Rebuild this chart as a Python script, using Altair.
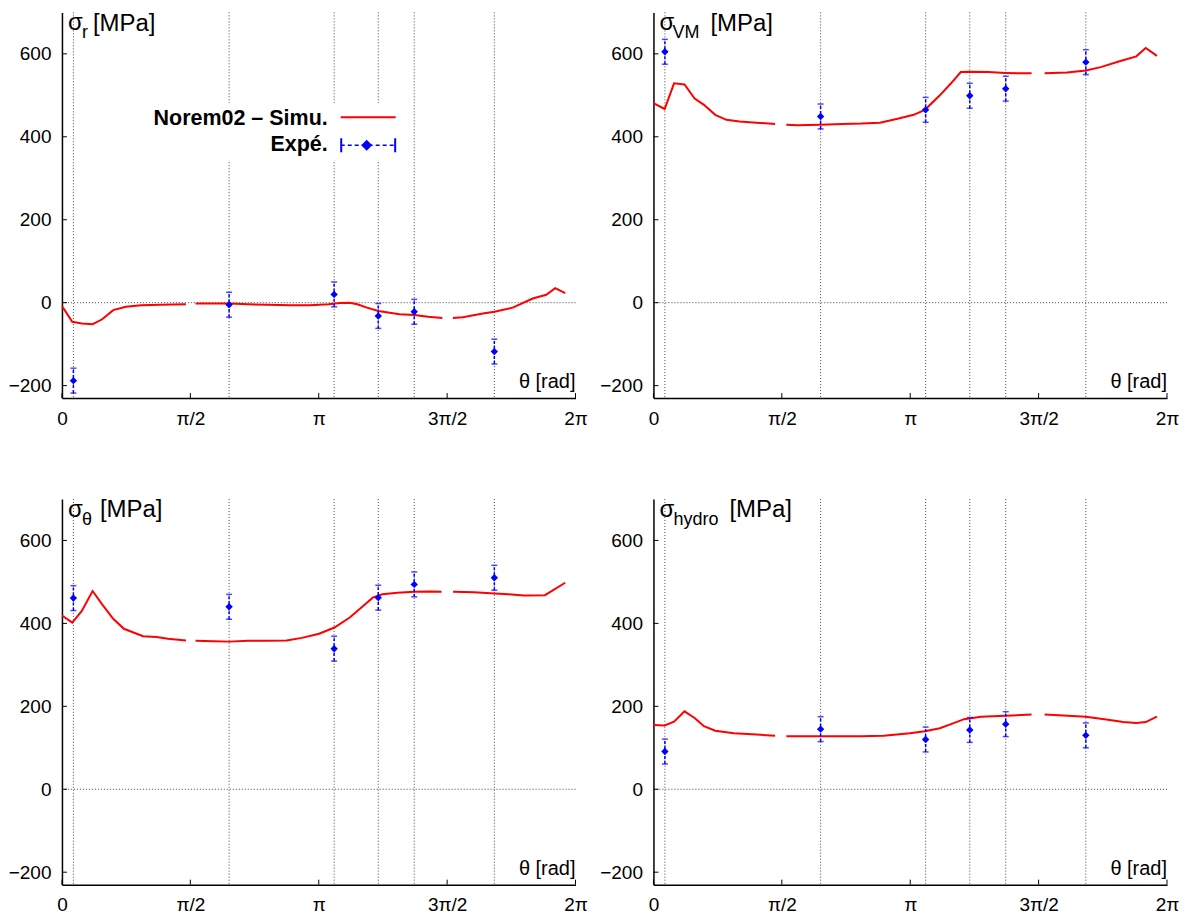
import altair as alt
import pandas as pd
import numpy as np

# ---------------- data ----------------
exp_theta = [0.14, 2.045, 3.33, 3.87, 4.31, 5.29]
exp_err = 30

sr_exp = [-188, -5, 20, -32, -22, -118]
vm_exp = [605, 449, 465, 499, 516, 580]
st_exp = [461, 440, 339, 462, 494, 510]
hy_exp = [91, 145, 120, 143, 157, 130]

# simulation curves (None separates the three segments)
sr_theta = [0.000, 0.126, 0.243, 0.375, 0.492, 0.627, 0.782, 0.969, 1.203, 1.517, None,
            1.634, 2.046, 2.280, 2.514, 2.795, 3.029, 3.263, 3.40, 3.52, 3.614, 3.732, 3.871, 4.13, 4.31, 4.48, 4.654, None,
            4.783, 4.904, 5.15, 5.293, 5.515, 5.76, 5.925, 6.035, 6.157]
sr_value = [-8, -46, -50, -52, -40, -18, -10, -6, -5, -4, None,
            -2, -2, -4, -5, -6, -6, -4, -1, 0, -4, -12, -20, -28, -30, -34, -37, None,
            -37, -35, -26, -22, -12, 10, 19, 35, 23]

vm_theta = [0.000, 0.137, 0.252, 0.380, 0.504, 0.618, 0.756, 0.893, 1.053, 1.260, 1.489, None,
            1.626, 1.763, 2.038, 2.313, 2.542, 2.771, 3.000, 3.183, 3.321, 3.504, 3.641, 3.760, 3.870, 4.099, 4.305, 4.466, 4.626, None,
            4.786, 5.061, 5.290, 5.473, 5.702, 5.908, 6.023, 6.160]
vm_value = [481, 467, 529, 526, 492, 477, 453, 441, 437, 434, 431, None,
            429, 428, 429, 431, 432, 434, 444, 453, 465, 500, 529, 556, 557, 556, 554, 553, 553, None,
            553, 555, 560, 568, 582, 594, 614, 595]

st_theta = [0.000, 0.126, 0.243, 0.375, 0.492, 0.627, 0.758, 0.993, 1.156, 1.297, 1.517, None,
            1.634, 1.859, 2.046, 2.280, 2.514, 2.748, 2.936, 3.146, 3.334, 3.521, 3.685, 3.802, 3.919, 4.106, 4.307, 4.504, 4.644, None,
            4.785, 5.043, 5.291, 5.464, 5.651, 5.909, 6.157]
st_value = [419, 402, 430, 478, 446, 411, 387, 369, 367, 363, 359, None,
            358, 357, 356, 358, 358, 359, 365, 375, 390, 414, 442, 462, 470, 474, 476, 477, 476, None,
            476, 475, 472, 470, 467, 468, 498]

hy_theta = [0.000, 0.137, 0.252, 0.380, 0.504, 0.618, 0.756, 0.985, 1.260, 1.489, None,
            1.626, 2.038, 2.542, 2.817, 3.137, 3.321, 3.504, 3.641, 3.801, 4.008, 4.305, 4.626, None,
            4.786, 5.015, 5.290, 5.519, 5.748, 5.908, 6.023, 6.160]
hy_value = [155, 154, 163, 188, 172, 152, 141, 135, 132, 129, None,
            128, 128, 128, 129, 135, 140, 147, 157, 169, 175, 177, 180, None,
            180, 178, 175, 169, 162, 160, 162, 175]

x_tick_values = [0, np.pi / 2, np.pi, 3 * np.pi / 2, 2 * np.pi]
x_tick_labels = ["0", "π/2", "π", "3π/2", "2π"]
y_tick_values = [-200, 0, 200, 400, 600]

subscripts = ["r", "VM", "θ", "hydro"]
legend_labels = ["Norem02 – Simu.", "Expé."]
x_title = "θ [rad]"
unit_text = "[MPa]"

# ---------------- styling ----------------
FONT = "Liberation Sans"
W, H = 514, 386
XDOM = [0, 2 * np.pi]
YDOM = [-230, 700]
RED = "#ff0000"
BLUE = "#0000ff"
GRID = "#444444"

label_js = "[" + ",".join("'%s'" % s for s in x_tick_labels) + "]"
xs = alt.Scale(domain=XDOM, nice=False, zero=False)
ys = alt.Scale(domain=YDOM, nice=False, zero=False)
xax = alt.Axis(values=x_tick_values, labelExpr=label_js + "[round(datum.value / (PI/2))]",
               title=None, grid=False, ticks=False, tickSize=0, labelPadding=11,
               labelFontSize=19, labelFont=FONT, labelColor="black", labelFlush=False,
               labelOverlap=False, domainColor="black", domainWidth=1.5)
yax = alt.Axis(values=y_tick_values, title=None, grid=False, ticks=False, tickSize=0,
               labelPadding=11, labelFontSize=19, labelFont=FONT, labelColor="black",
               labelFlush=False, labelOverlap=False, domainColor="black", domainWidth=1.5)


def X(f):
    return alt.X(f + ":Q", scale=xs, axis=xax)


def Y(f):
    return alt.Y(f + ":Q", scale=ys, axis=yax)


def one(t):
    return pd.DataFrame({"t": [t]})


def panel(sim_t, sim_v, exp_v, sub, sub_x, mpa_x, legend=False):
    rows, s = [], 0
    for t, v in zip(sim_t, sim_v):
        if t is None:
            s += 1
            continue
        rows.append({"theta": t, "value": v, "seg": s})
    sim = pd.DataFrame(rows)
    exp = pd.DataFrame({"theta": exp_theta, "value": exp_v})
    exp["lo"] = exp["value"] - exp_err
    exp["hi"] = exp["value"] + exp_err

    vlines = alt.Chart(exp).mark_rule(color=GRID, strokeDash=[1, 2], strokeWidth=1).encode(x=X("theta"))
    zero = alt.Chart(pd.DataFrame({"value": [0]})).mark_rule(
        color=GRID, strokeDash=[1, 2], strokeWidth=1).encode(y=Y("value"))
    ytick = alt.Chart(pd.DataFrame({"v": y_tick_values})).mark_rule(color="black", strokeWidth=1).encode(
        y=Y("v"), x=alt.value(0), x2=alt.value(5))
    xtick = alt.Chart(pd.DataFrame({"theta": x_tick_values})).mark_rule(color="black", strokeWidth=1).encode(
        x=X("theta"), y=alt.value(H), y2=alt.value(H - 5))

    layers = [vlines, zero, ytick, xtick]

    if legend:
        bg = alt.Chart(one("")).mark_rect(color="white").encode(
            x=alt.value(80), x2=alt.value(340), y=alt.value(91), y2=alt.value(148))
        t1 = alt.Chart(one(legend_labels[0])).mark_text(
            align="right", baseline="alphabetic", font=FONT, fontSize=21.5, fontWeight="bold",
            color="black").encode(x=alt.value(266), y=alt.value(113), text="t:N")
        t2 = alt.Chart(one(legend_labels[1])).mark_text(
            align="right", baseline="alphabetic", font=FONT, fontSize=21.5, fontWeight="bold",
            color="black").encode(x=alt.value(266), y=alt.value(139), text="t:N")
        l1 = alt.Chart(one("")).mark_rule(color=RED, strokeWidth=2).encode(
            x=alt.value(279), x2=alt.value(334), y=alt.value(105))
        l2 = alt.Chart(one("")).mark_rule(color=BLUE, strokeWidth=1.5, strokeDash=[4, 3]).encode(
            x=alt.value(279), x2=alt.value(334), y=alt.value(133))
        c1 = alt.Chart(one("")).mark_rule(color=BLUE, strokeWidth=2).encode(
            x=alt.value(279.5), y=alt.value(126), y2=alt.value(140))
        c2 = alt.Chart(one("")).mark_rule(color=BLUE, strokeWidth=2).encode(
            x=alt.value(333.5), y=alt.value(126), y2=alt.value(140))
        dm = alt.Chart(one("")).mark_point(shape="diamond", filled=True, size=120, color=BLUE, opacity=1).encode(
            x=alt.value(305), y=alt.value(133))
        layers += [bg, t1, t2, l1, l2, c1, c2, dm]

    line = alt.Chart(sim).mark_line(color=RED, strokeWidth=2).encode(
        x=X("theta"), y=Y("value"), detail="seg:N")
    ebar = alt.Chart(exp).mark_rule(color=BLUE, strokeWidth=1.5, strokeDash=[3, 2]).encode(
        x=X("theta"), y=Y("lo"), y2="hi:Q")
    cap_lo = alt.Chart(exp).mark_tick(color=BLUE, orient="horizontal", size=6, thickness=1.5).encode(
        x=X("theta"), y=Y("lo"))
    cap_hi = alt.Chart(exp).mark_tick(color=BLUE, orient="horizontal", size=6, thickness=1.5).encode(
        x=X("theta"), y=Y("hi"))
    pts = alt.Chart(exp).mark_point(shape="diamond", filled=True, size=55, color=BLUE, opacity=1).encode(
        x=X("theta"), y=Y("value"))

    sig = alt.Chart(one("σ")).mark_text(align="left", baseline="alphabetic", font=FONT, fontSize=24,
                                         color="black").encode(x=alt.value(6), y=alt.value(18), text="t:N")
    sb = alt.Chart(one(sub)).mark_text(align="left", baseline="alphabetic", font=FONT, fontSize=18,
                                        color="black").encode(x=alt.value(sub_x), y=alt.value(26), text="t:N")
    mpa = alt.Chart(one(unit_text)).mark_text(align="left", baseline="alphabetic", font=FONT, fontSize=24,
                                               color="black").encode(x=alt.value(mpa_x), y=alt.value(18.5), text="t:N")
    xt = alt.Chart(one(x_title)).mark_text(align="right", baseline="alphabetic", font=FONT, fontSize=20,
                                            color="black").encode(x=alt.value(W), y=alt.value(376), text="t:N")

    layers += [line, ebar, cap_lo, cap_hi, pts, sig, sb, mpa, xt]
    return alt.layer(*layers).properties(width=W, height=H)


p1 = panel(sr_theta, sr_value, sr_exp, subscripts[0], 20, 31, legend=True)
p2 = panel(vm_theta, vm_value, vm_exp, subscripts[1], 19, 57)
p3 = panel(st_theta, st_value, st_exp, subscripts[2], 20, 38)
p4 = panel(hy_theta, hy_value, hy_exp, subscripts[3], 20, 76)

chart = alt.concat(p1, p2, p3, p4, columns=2, spacing={"row": 101, "column": 78}, bounds="flush").properties(
    padding={"left": 0, "top": 3, "right": 0, "bottom": 0}
).configure_view(stroke=None)

chart.save("out.html", embed_options={"renderer": "svg", "actions": False})
